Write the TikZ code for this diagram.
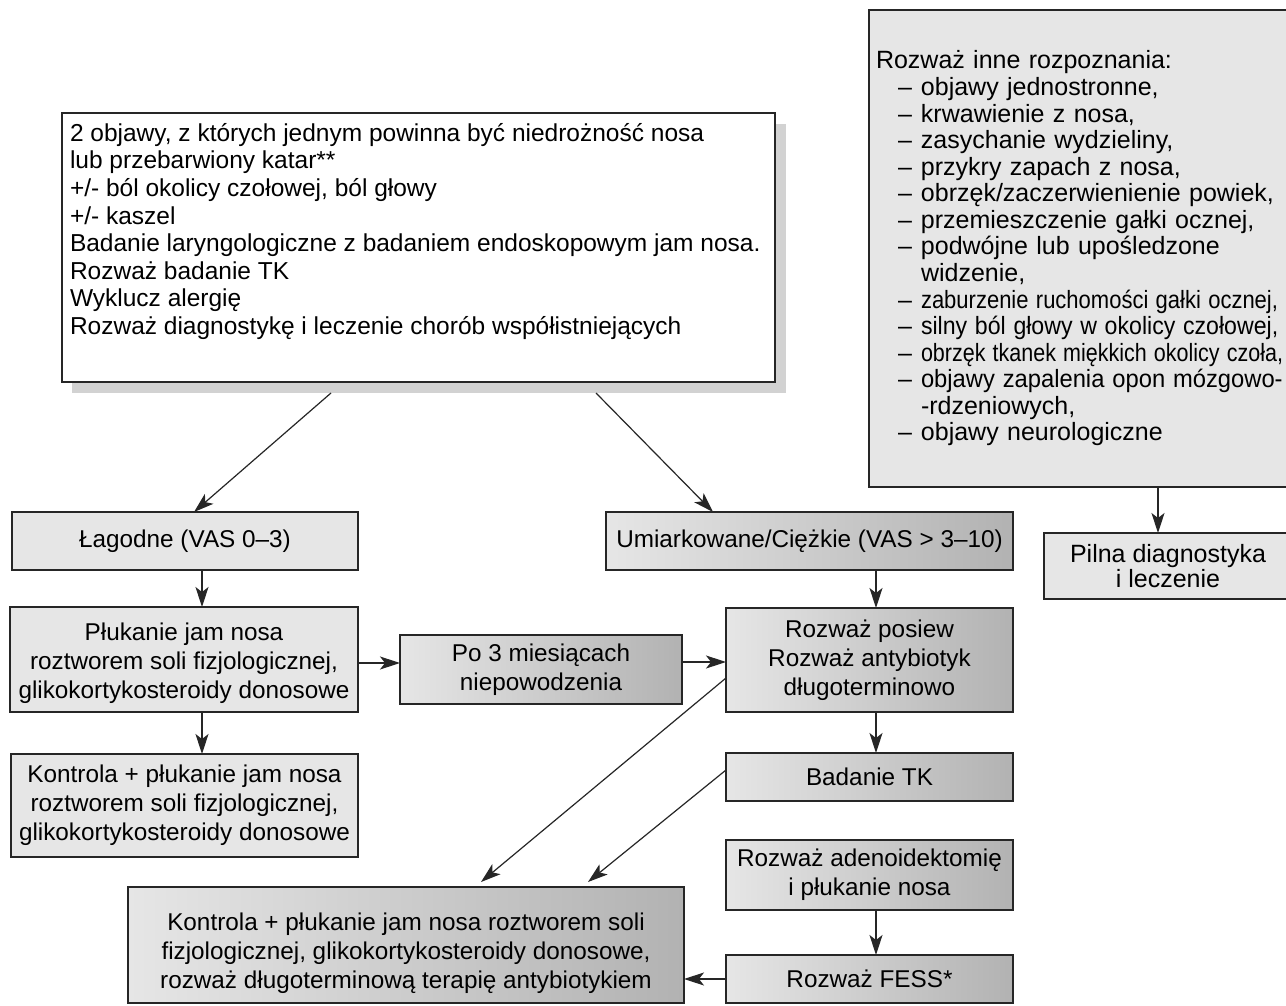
\documentclass[tikz,border=0pt]{standalone}
\usepackage{fontspec}
\setmainfont{Liberation Sans}
\usepackage{graphicx}
\usetikzlibrary{arrows.meta,calc}
\definecolor{lightbox}{HTML}{E6E6E6}
\definecolor{darkbox}{HTML}{B2B2B2}
\definecolor{edgecol}{HTML}{262626}
\definecolor{shadecol}{HTML}{D2D2D2}
\begin{document}
\begin{tikzpicture}[x=1pt,y=-1pt,
  every node/.style={inner sep=0pt, outer sep=0pt},
  flatbox/.style={draw=edgecol, line width=1.5pt, fill=lightbox, align=center,
    font=\fontsize{24.3}{29}\selectfont, anchor=north west},
  gradbox/.style={draw=edgecol, line width=1.5pt, left color=lightbox, right color=darkbox,
    align=center, font=\fontsize{24.3}{29}\selectfont, anchor=north west},
  arr/.style={draw=edgecol, line width=1.2pt, -{Stealth[length=20pt,width=13pt,inset=5pt]}}
]
\clip (0,0) rectangle (1286,1006);
\fill[white] (0,0) rectangle (1286,1006);

% top box with shadow
\node[flatbox, fill=white, draw=none, minimum width=713, minimum height=269] (topbg) at (62,113) {};
\fill[shadecol] ($(topbg.north west)+(10,11)$) rectangle ($(topbg.south east)+(11,11)$);
\node[flatbox, fill=white, minimum width=713, minimum height=269] (top) at (62,113) {};
\node[anchor=west, align=left, font=\fontsize{24.5}{27.6}\selectfont] (toptext) at ($(top.west)+(8,-16)$) {%
2 objawy, z których jednym powinna być niedrożność nosa\\
lub przebarwiony katar**\\
+/- ból okolicy czołowej, ból głowy\\
+/- kaszel\\
Badanie laryngologiczne z badaniem endoskopowym jam nosa.\\
Rozważ badanie TK\\
Wyklucz alergię\\
Rozważ diagnostykę i leczenie chorób współistniejących};

% right box
\node[flatbox, minimum width=431, minimum height=477, text width=417, align=left,
  font=\fontsize{25}{26.57}\selectfont] (rinne) at (869,10) {%
Rozważ inne rozpoznania:\\
\hspace*{22pt}\makebox[23pt][l]{–}objawy jednostronne,\\
\hspace*{22pt}\makebox[23pt][l]{–}krwawienie z nosa,\\
\hspace*{22pt}\makebox[23pt][l]{–}zasychanie wydzieliny,\\
\hspace*{22pt}\makebox[23pt][l]{–}przykry zapach z nosa,\\
\hspace*{22pt}\makebox[23pt][l]{–}obrzęk/zaczerwienienie powiek,\\
\hspace*{22pt}\makebox[23pt][l]{–}przemieszczenie gałki ocznej,\\
\hspace*{22pt}\makebox[23pt][l]{–}podwójne lub upośledzone\\
\hspace*{45pt}widzenie,\\
\hspace*{22pt}\makebox[23pt][l]{–}\scalebox{0.88}[1]{zaburzenie ruchomości gałki ocznej,}\\
\hspace*{22pt}\makebox[23pt][l]{–}\scalebox{0.925}[1]{silny ból głowy w okolicy czołowej,}\\
\hspace*{22pt}\makebox[23pt][l]{–}\scalebox{0.86}[1]{obrzęk tkanek miękkich okolicy czoła,}\\
\hspace*{22pt}\makebox[23pt][l]{–}\scalebox{0.95}[1]{objawy zapalenia opon mózgowo-}\\
\hspace*{45pt}-rdzeniowych,\\
\hspace*{22pt}\makebox[23pt][l]{–}objawy neurologiczne};

\node[flatbox, minimum width=248, minimum height=66, font=\fontsize{25}{25}\selectfont] (pilna) at (1044,533) {Pilna diagnostyka\\i leczenie};

% left column
\node[flatbox, minimum width=346, minimum height=58] (lag) at (12,512) {Łagodne (VAS 0–3)};
\node[flatbox, minimum width=348, minimum height=105] (plu) at (10,607) {\rule{0pt}{26pt}Płukanie jam nosa\\roztworem soli fizjologicznej,\\glikokortykosteroidy donosowe};
\node[flatbox, minimum width=347, minimum height=103] (kon) at (11,754) {Kontrola + płukanie jam nosa\\roztworem soli fizjologicznej,\\glikokortykosteroidy donosowe};

% middle / right column
\node[gradbox, minimum width=407, minimum height=58] (umi) at (606,512) {Umiarkowane/Ciężkie (VAS > 3–10)};
\node[gradbox, minimum width=282, minimum height=69] (po3) at (400,635) {Po 3 miesiącach\\niepowodzenia};
\node[gradbox, minimum width=287, minimum height=104] (pos) at (726,608) {Rozważ posiew\\Rozważ antybiotyk\\długoterminowo};
\node[gradbox, minimum width=287, minimum height=48] (tk) at (726,753) {Badanie TK};
\node[gradbox, minimum width=287, minimum height=70] (ade) at (726,840) {Rozważ adenoidektomię\\i płukanie nosa};
\node[gradbox, minimum width=287, minimum height=48] (fess) at (726,955) {Rozważ FESS*};
\node[gradbox, minimum width=556, minimum height=116] (big) at (128,887) {\rule{0pt}{34pt}Kontrola + płukanie jam nosa roztworem soli\\fizjologicznej, glikokortykosteroidy donosowe,\\rozważ długoterminową terapię antybiotykiem};

% connectors
\draw[arr] ($(top.south west)+(269,11)$) -- ($(lag.north west)+(182,0)$);
\draw[arr] ($(top.south west)+(534,11)$) -- ($(umi.north west)+(107,0)$);
\draw[arr] ($(rinne.south west)+(289,0)$) -- ($(pilna.north west)+(114,0)$);
\draw[arr] ($(lag.south west)+(190,0)$) -- ($(plu.north west)+(192,0)$);
\draw[arr] ($(plu.south west)+(192,0)$) -- ($(kon.north west)+(191,0)$);
\draw[arr] ($(plu.north east)+(0,56)$) -- ($(po3.north west)+(0,28)$);
\draw[arr] ($(po3.north east)+(0,27)$) -- ($(pos.north west)+(0,54)$);
\draw[arr] ($(umi.south west)+(270,0)$) -- ($(pos.north west)+(150,0)$);
\draw[arr] ($(pos.south west)+(150,0)$) -- ($(tk.north west)+(150,0)$);
\draw[arr] ($(pos.north west)+(0,70)$) -- ($(big.north west)+(353,-5)$);
\draw[arr] ($(tk.north west)+(0,17)$) -- ($(big.north west)+(460,-5)$);
\draw[arr] ($(ade.south west)+(150,0)$) -- ($(fess.north west)+(150,0)$);
\draw[arr] ($(fess.north west)+(0,24)$) -- ($(big.north east)+(0,92)$);
\end{tikzpicture}
\end{document}
